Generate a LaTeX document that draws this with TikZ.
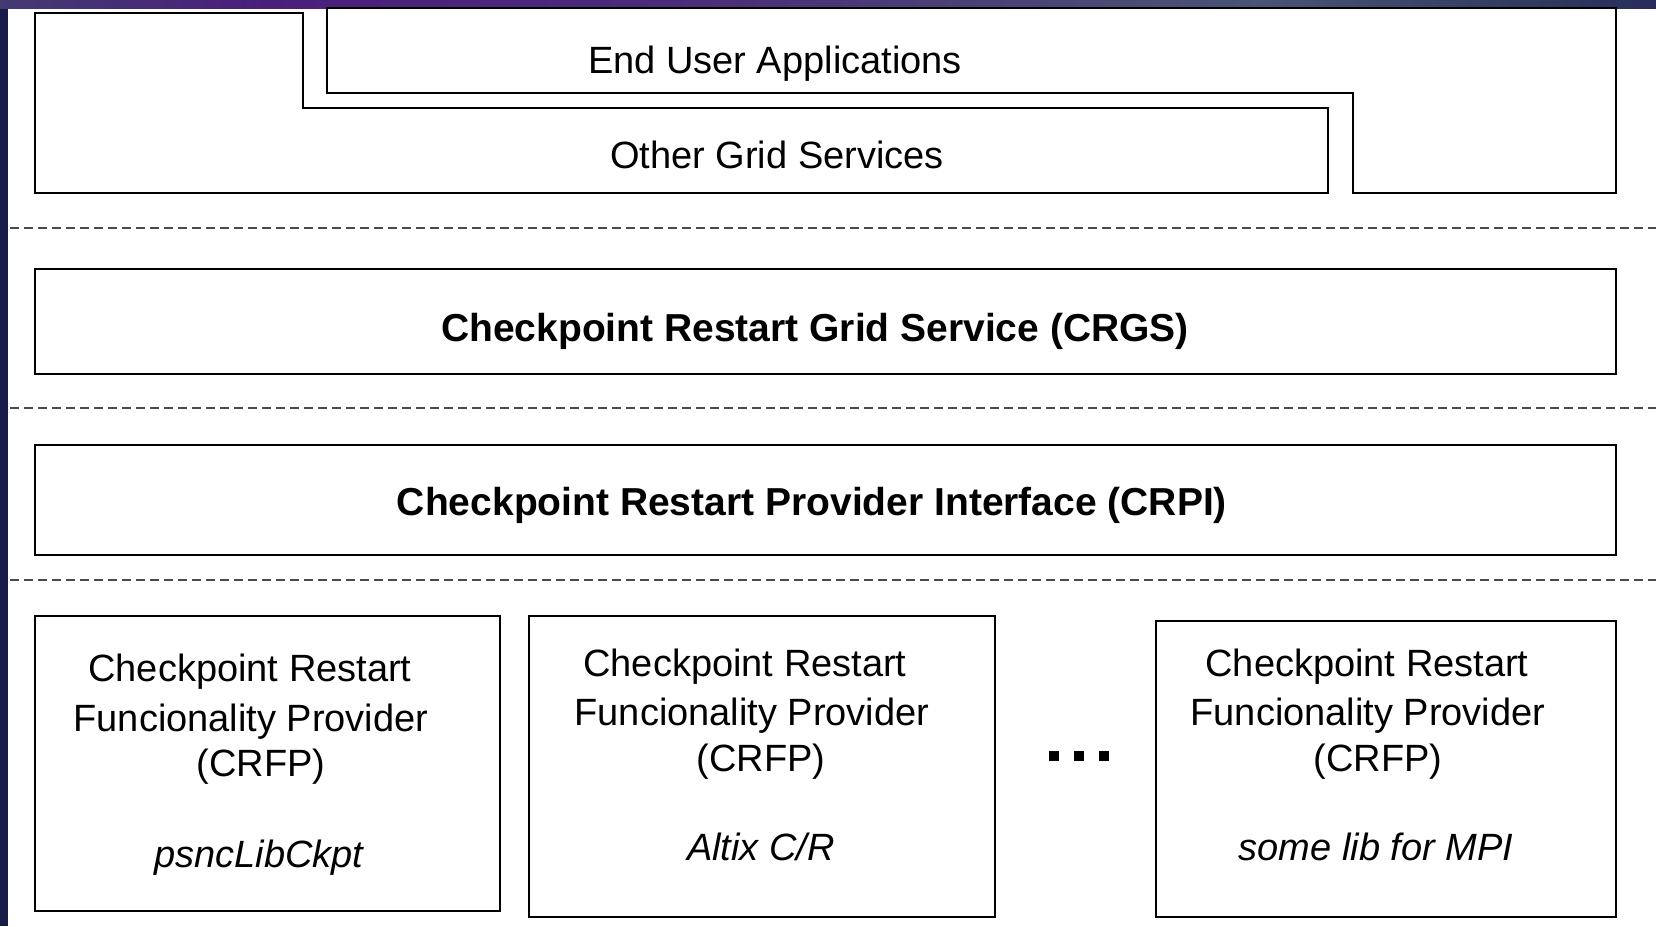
\documentclass[tikz,border=0pt]{standalone}
\usepackage{fontspec}
\setmainfont{Liberation Sans}
\definecolor{bandA}{HTML}{433A72}
\definecolor{bandB}{HTML}{4A1F7C}
\definecolor{bandC}{HTML}{4B2B7A}
\definecolor{bandD}{HTML}{4A5474}
\definecolor{bandE}{HTML}{272D58}
\definecolor{sidebar}{HTML}{171D48}
\definecolor{sepgrey}{HTML}{4A4A4A}
% slide frame gradient along the top edge
\pgfdeclarehorizontalshading{topband}{100bp}{%
  color(0bp)=(bandA); color(25bp)=(bandA); color(33bp)=(bandB);
  color(45bp)=(bandC); color(63bp)=(bandD); color(75bp)=(bandE); color(100bp)=(bandE)}
\begin{document}
\begin{tikzpicture}[x=1pt,y=-1pt,
  box/.style={draw=black, line width=1.6pt, fill=white},
  sep/.style={draw=sepgrey, line width=1.3pt, dash pattern=on 9pt off 5pt},
  lbl/.style={anchor=base, inner sep=0pt, font=\fontsize{38}{44}\selectfont},
  blbl/.style={anchor=base, inner sep=0pt, font=\fontsize{39}{46}\selectfont\bfseries},
  ilbl/.style={anchor=base, inner sep=0pt, font=\fontsize{38}{44}\selectfont\itshape},
  sq/.style={fill=black, draw=none, minimum size=10pt, inner sep=0pt}
]
\useasboundingbox (0,0) rectangle (1656,926);
\fill[white] (0,0) rectangle (1656,926);

% frame
\fill[sidebar] (0,0) rectangle (8,926);
\shade[shading=topband] (0,0) rectangle (1656,8);

% upper layer: applications and other services
\draw[box] (35,13) -- (303,13) -- (303,108) -- (1328,108) -- (1328,193) -- (35,193) -- cycle;
\draw[box] (327,8) -- (327,93) -- (1353,93) -- (1353,193) -- (1616,193) -- (1616,8) -- cycle;
\node[lbl] (eua) at (775,73.5) {End User Applications};
\node[lbl] (ogs) at (777,168.5) {Other Grid Services};

% layer separators
\draw[sep] (10,228) -- (1656,228);
\draw[sep] (10,408) -- (1656,408);
\draw[sep] (10,580) -- (1656,580);

% service and interface layers
\node[box, minimum width=1581pt, minimum height=105pt] (crgs) at (825.5,321.5) {};
\node[blbl] (crgst) at (815,341) {Checkpoint Restart Grid Service (CRGS)};
\node[box, minimum width=1581pt, minimum height=110pt] (crpi) at (825.5,500) {};
\node[blbl] (crpit) at (812,515) {Checkpoint Restart Provider Interface (CRPI)};

% providers
\node[box, minimum width=465pt, minimum height=295pt] (p1) at (267.5,763.5) {};
\node[lbl] (p1a) at (250,681) {Checkpoint Restart};
\node[lbl] (p1b) at (251,731) {Funcionality Provider};
\node[lbl] (p1c) at (261,776) {(CRFP)};
\node[ilbl] (p1d) at (259,867) {psncLibCkpt};

\node[box, minimum width=466pt, minimum height=301pt] (p2) at (762,766.5) {};
\node[lbl] (p2a) at (745,676) {Checkpoint Restart};
\node[lbl] (p2b) at (752,725) {Funcionality Provider};
\node[lbl] (p2c) at (761,771) {(CRFP)};
\node[ilbl] (p2d) at (761,860) {Altix C/R};

\node[box, minimum width=460pt, minimum height=296pt] (p3) at (1386,769) {};
\node[lbl] (p3a) at (1367,676) {Checkpoint Restart};
\node[lbl] (p3b) at (1368,725) {Funcionality Provider};
\node[lbl] (p3c) at (1378,771) {(CRFP)};
\node[ilbl] (p3d) at (1376,860) {some lib for MPI};

% ellipsis between providers
\node[sq] (d1) at (1054,756) {};
\node[sq] (d2) at (1079,756) {};
\node[sq] (d3) at (1104,756) {};
\end{tikzpicture}
\end{document}
